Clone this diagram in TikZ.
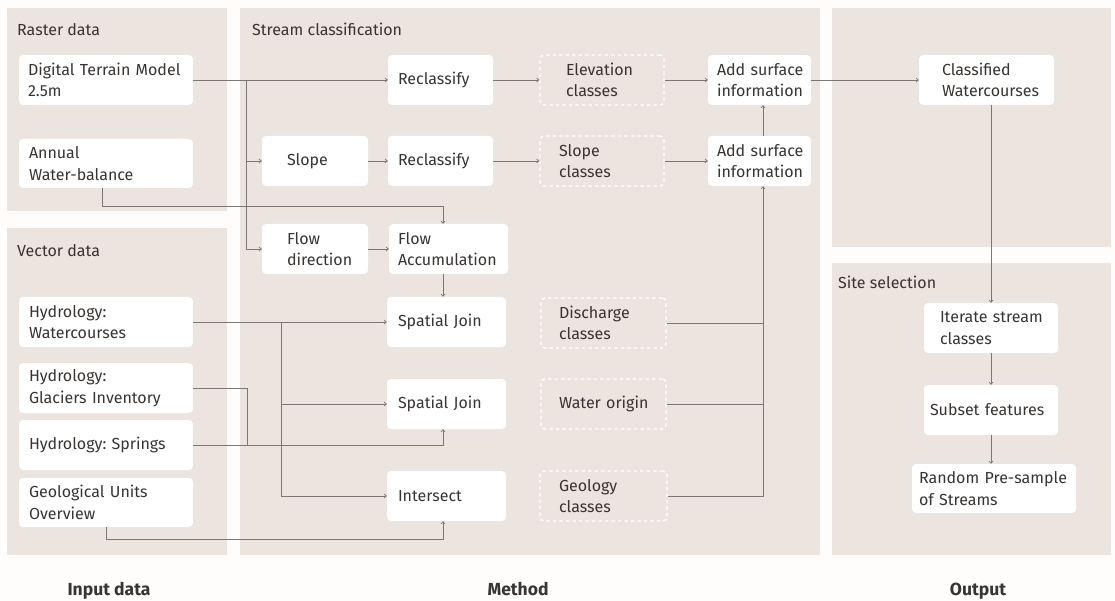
\documentclass[tikz,border=0pt]{standalone}
\usepackage{fontspec}
\setmainfont{Fira Sans}
\usetikzlibrary{arrows.meta}
\frenchspacing
\definecolor{panel}{RGB}{235,228,223}
\definecolor{ln}{RGB}{125,118,115}
\definecolor{txt}{RGB}{55,52,50}
\definecolor{bg}{RGB}{254,253,252}
\tikzset{
  boxfont/.style={font=\fontsize{16}{21.5}\selectfont\frenchspacing},
  wbox/.style={fill=white, rounded corners=4pt, inner xsep=0pt, inner ysep=0pt, align=left, text=txt, boxfont},
  dbox/.style={draw=white, dash pattern=on 3.5pt off 3pt, line width=1.4pt, rounded corners=4pt, inner xsep=0pt, inner ysep=0pt, align=left, text=txt, boxfont},
  title/.style={anchor=base west, inner sep=0pt, text=txt, boxfont},
  foot/.style={anchor=base, inner sep=0pt, text=txt, font=\fontsize{17.5}{21}\selectfont\bfseries},
  conn/.style={draw=ln, line width=0.7pt},
  arr/.style={conn, -{Straight Barb[length=2.2pt,width=4pt]}},
}
\newcommand\mybox[8]{%
  \pgfmathsetmacro\bxw{#4-#2}\pgfmathsetmacro\bxh{#5-#3}%
  \pgfmathsetmacro\bxcx{(#2+#4)/2}\pgfmathsetmacro\bxcy{(#3+#5)/2}%
  \pgfmathsetmacro\bxtw{#4-#2-2*#6}%
  \node[#7, minimum width=\bxw pt, minimum height=\bxh pt, text width=\bxtw pt] (#1) at (\bxcx,\bxcy) {#8};}
\begin{document}
\begin{tikzpicture}[x=1pt,y=-1pt]
\fill[bg] (0,0) rectangle (1115,601);
\useasboundingbox (0,0) rectangle (1115,601);
% panels
\fill[panel] (7,8) rectangle (227,211);
\fill[panel] (7,228) rectangle (227,555);
\fill[panel] (240,8) rectangle (820,555);
\fill[panel] (832,8) rectangle (1111,247);
\fill[panel] (832,263) rectangle (1111,555);
% titles
\node[title] (traster) at (17,36) {Raster data};
\node[title] (tvector) at (17,257) {Vector data};
\node[title] (tstream) at (252,36) {Stream classification};
\node[title] (tsite) at (838,289) {Site selection};
\node[foot] (finput) at (109,595) {Input data};
\node[foot] (fmethod) at (518,595) {Method};
\node[foot] (foutput) at (978,595) {Output};
% input boxes
\mybox{dtm}{19}{55}{193}{105}{9}{wbox}{\mbox{Digital Terrain Model}\\2.5m}
\mybox{awb}{19}{139}{193}{188}{10}{wbox}{Annual\\\mbox{Water-balance}}
\mybox{hwc}{19}{297}{193}{347}{10}{wbox}{Hydrology:\\Watercourses}
\mybox{hgl}{19}{363}{193}{413}{10}{wbox}{Hydrology:\\\mbox{Glaciers Inventory}}
\mybox{hsp}{19}{420}{193}{470}{10}{wbox}{\mbox{Hydrology: Springs}}
\mybox{geo}{19}{478}{193}{527}{10}{wbox}{\mbox{Geological Units}\\Overview}
% method
\mybox{slope}{262}{136}{368}{186}{25}{wbox}{Slope}
\mybox{fdir}{262}{224}{368}{274}{25}{wbox}{Flow\\\mbox{direction}}
\mybox{recla}{388}{55}{493}{105}{10}{wbox}{\mbox{Reclassify}}
\mybox{reclb}{388}{136}{493}{186}{10}{wbox}{\mbox{Reclassify}}
\mybox{facc}{389}{224}{508}{274}{9}{wbox}{Flow\\\mbox{Accumulation}}
\mybox{sja}{387}{297}{506}{347}{11}{wbox}{\mbox{Spatial Join}}
\mybox{sjb}{387}{379}{506}{429}{11}{wbox}{\mbox{Spatial Join}}
\mybox{inter}{387}{471}{506}{521}{11}{wbox}{\mbox{Intersect}}
\mybox{elev}{540}{55}{664}{105}{26}{dbox}{\mbox{Elevation}\\classes}
\mybox{slcl}{540}{136}{664}{186}{19}{dbox}{Slope\\classes}
\mybox{disc}{541}{298}{666}{348}{18}{dbox}{\mbox{Discharge}\\classes}
\mybox{worig}{541}{379}{666}{429}{18}{dbox}{\mbox{Water origin}}
\mybox{geocl}{540}{471}{667}{521}{19}{dbox}{Geology\\classes}
\mybox{adda}{708}{55}{811}{105}{9}{wbox}{\mbox{Add surface}\\\mbox{information}}
\mybox{addb}{708}{136}{811}{186}{9}{wbox}{\mbox{Add surface}\\\mbox{information}}
% output
\mybox{clw}{919}{55}{1054}{105}{23}{wbox}{Classified\\\mbox{Watercourses}}
\mybox{iter}{924}{303}{1058}{353}{16}{wbox}{\mbox{Iterate stream}\\classes}
\mybox{subset}{924}{385}{1058}{435}{6}{wbox}{\mbox{Subset features}}
\mybox{rand}{912}{464}{1076}{513}{7}{wbox}{\mbox{Random Pre-sample}\\\mbox{of Streams}}
% junction coordinates
\coordinate (dtrunk) at (246,80);
\coordinate (htrunk) at (281,322);
\coordinate (gjoin) at (247,445);
\coordinate (colx) at (763,496);
% connectors
\draw[arr] (dtm.east) -- (recla.west);
\draw[arr] (dtrunk) |- (slope.west);
\draw[arr] (dtrunk) |- (fdir.west);
\draw[arr] ([xshift=-4pt]awb.south) -- ++(0,18) -| ([xshift=-5.5pt]facc.north);
\draw[arr] (slope.east) -- (reclb.west);
\draw[arr] (fdir.east) -- (facc.west);
\draw[arr] ([xshift=-5.5pt]facc.south) -- ([xshift=-5.5pt]facc.south |- sja.north);
\draw[arr] (recla.east) -- (elev.west);
\draw[arr] (reclb.east) -- (slcl.west);
\draw[arr] (elev.east) -- (adda.west);
\draw[arr] (slcl.east) -- (addb.west);
\draw[arr] ([xshift=3.5pt]addb.north) -- ([xshift=3.5pt]adda.south);
\draw[arr] (adda.east) -- (clw.west);
\draw[arr] (clw.south -| iter.north) -- (iter.north);
\draw[arr] (iter.south) -- (subset.north);
\draw[arr] (subset.south) -- (subset.south |- rand.north);
\draw[conn] (disc.east) -- (disc.east -| colx);
\draw[conn] (worig.east) -- (worig.east -| colx);
\draw[arr] (geocl.east) -| ([xshift=3.5pt]addb.south);
\draw[arr] (hwc.east) -- (sja.west);
\draw[arr] (htrunk) |- (sjb.west);
\draw[arr] (htrunk) |- (inter.west);
\draw[conn] (hgl.east) -| (gjoin);
\draw[arr] (hsp.east) -| ([xshift=-3.5pt]sjb.south);
\draw[arr] (geo.south) -- ++(0,12) -| ([xshift=-3.5pt]inter.south);
\end{tikzpicture}
\end{document}
